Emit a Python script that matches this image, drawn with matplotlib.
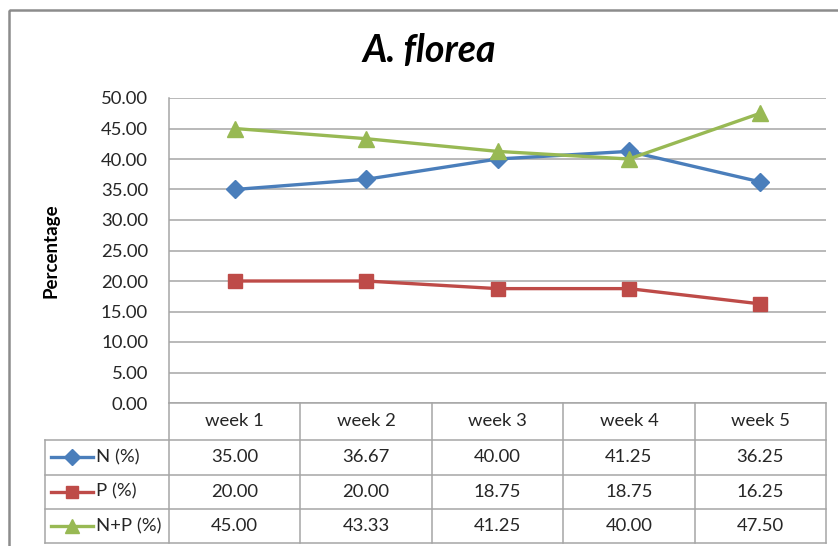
import matplotlib.pyplot as plt
from matplotlib.patches import Rectangle

plt.rcParams['font.family'] = ['Lato', 'DejaVu Sans']

weeks = ['week 1', 'week 2', 'week 3', 'week 4', 'week 5']
n_pct = [35.00, 36.67, 40.00, 41.25, 36.25]
p_pct = [20.00, 20.00, 18.75, 18.75, 16.25]
np_pct = [45.00, 43.33, 41.25, 40.00, 47.50]

series = [
    ('N (%)', n_pct, '#4A7EBB', 'D', 9),
    ('P (%)', p_pct, '#BE4B48', 's', 10),
    ('N+P (%)', np_pct, '#98B954', '^', 11),
]

W, H = 838, 546
grid_col = '#A6A6A6'
text_col = '#262626'
fs = 13.3

fig = plt.figure(figsize=(W / 100, H / 100), dpi=100)

# plot area, pixel box: left 169, right 826, top 98, bottom 403
px_l, px_r, px_t, px_b = 169, 826, 98, 403
ax = fig.add_axes([px_l / W, 1 - px_b / H, (px_r - px_l) / W, (px_b - px_t) / H])
xs = [i + 0.5 for i in range(len(weeks))]
for label, vals, col, mk, ms in series:
    ax.plot(xs, vals, color=col, lw=2.4, marker=mk, ms=ms, zorder=3)

ax.set_xlim(0, len(weeks))
ax.set_ylim(0, 50)
ax.set_yticks(range(0, 51, 5))
ax.set_yticklabels([f'{v:.2f}' for v in range(0, 51, 5)], fontsize=fs, color=text_col)
ax.set_xticks([])
ax.yaxis.grid(True, color=grid_col, lw=1.1)
ax.set_axisbelow(True)
ax.tick_params(axis='y', length=0, pad=15)
for side in ['top', 'right', 'bottom']:
    ax.spines[side].set_visible(False)
ax.spines['left'].set_color(grid_col)
ax.spines['left'].set_linewidth(1.1)
ax.set_ylabel('Percentage', fontsize=13.5, fontweight='bold', color='black', labelpad=30)

# overlay in pixel coordinates for the title, border and data table
ov = fig.add_axes([0, 0, 1, 1], facecolor='none')
ov.set_xlim(0, W)
ov.set_ylim(H, 0)
ov.axis('off')

ov.add_patch(Rectangle((9, 10), W + 20, H + 20, fill=False, ec='#8C8C8C', lw=1.8))
ov.text(429, 50, 'A. florea', fontsize=27, fontweight='bold', style='italic',
        ha='center', va='center', color='black')

row_h = [403, 440, 474.5, 509, 543]
col_w = (px_r - px_l) / len(weeks)
col_x = [px_l + col_w * i for i in range(len(weeks) + 1)]
tab_left = 45
lkw = dict(color=grid_col, lw=1.1)

ov.plot([px_l, px_r], [row_h[0], row_h[0]], **lkw)
for y in row_h[1:]:
    ov.plot([tab_left, px_r], [y, y], **lkw)
for x in col_x:
    ov.plot([x, x], [row_h[0], row_h[-1]], **lkw)
ov.plot([tab_left, tab_left], [row_h[1], row_h[-1]], **lkw)

for i, wk in enumerate(weeks):
    ov.text(col_x[i] + col_w / 2, (row_h[0] + row_h[1]) / 2, wk, fontsize=fs,
            ha='center', va='center', color=text_col)

for r, (label, vals, col, mk, ms) in enumerate(series):
    yc = (row_h[r + 1] + row_h[r + 2]) / 2
    ov.plot([51, 93], [yc, yc], color=col, lw=2.4)
    ov.plot([72], [yc], color=col, marker=mk, ms=ms - 1)
    ov.text(96, yc, label, fontsize=fs, ha='left', va='center', color=text_col)
    for i, v in enumerate(vals):
        ov.text(col_x[i] + col_w / 2, yc, f'{v:.2f}', fontsize=fs,
                ha='center', va='center', color=text_col)

fig.savefig('out.png', dpi=100)
